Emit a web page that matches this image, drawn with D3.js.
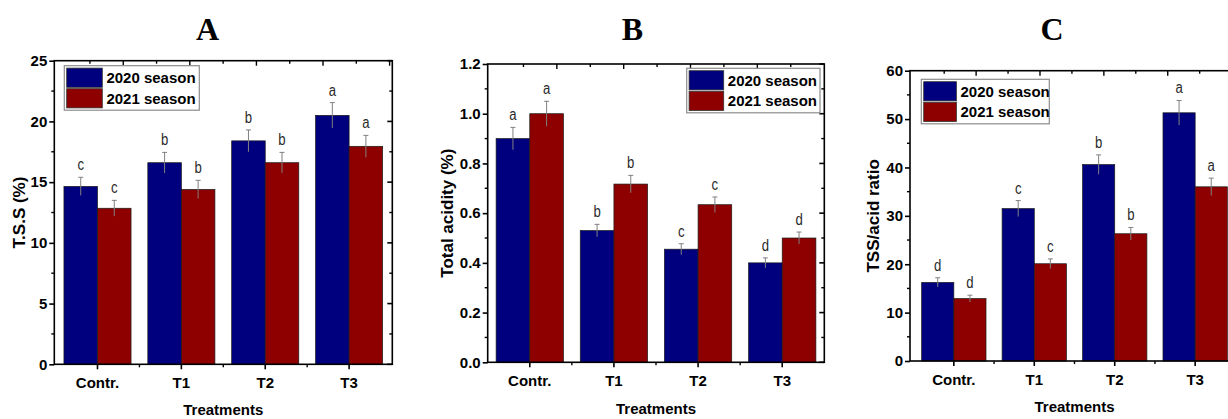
<!DOCTYPE html>
<html>
<head>
<meta charset="utf-8">
<script src="https://cdn.jsdelivr.net/npm/d3@7"></script>
<style>
  body { margin: 0; background: #fff; }
  svg { display: block; }
  text { font-family: "Liberation Sans", Arial, sans-serif; }
</style>
</head>
<body>
<svg id="chart" width="1228" height="419"></svg>
<script>
// categories and season names
const treatments = ["Contr.", "T1", "T2", "T3"];
const seasons = ["2020 season", "2021 season"];

// A : T.S.S (%)
const tss2020 = [14.65, 16.6, 18.4, 20.5];
const tss2021 = [12.85, 14.4, 16.6, 17.95];
const tssErr2020 = [0.75, 0.85, 0.9, 1.05];
const tssErr2021 = [0.65, 0.75, 0.85, 0.9];
const tssLetters2020 = ["c", "b", "b", "a"];
const tssLetters2021 = ["c", "b", "b", "a"];

// B : Total acidity (%)
const acid2020 = [0.90, 0.53, 0.455, 0.40];
const acid2021 = [1.00, 0.717, 0.634, 0.50];
const acidErr2020 = [0.045, 0.025, 0.022, 0.02];
const acidErr2021 = [0.05, 0.035, 0.031, 0.024];
const acidLetters2020 = ["a", "b", "c", "d"];
const acidLetters2021 = ["a", "b", "c", "d"];

// C : TSS/acid ratio
const ratio2020 = [16.25, 31.5, 40.6, 51.3];
const ratio2021 = [12.9, 20.1, 26.3, 36.0];
const ratioErr2020 = [0.95, 1.65, 2.0, 2.55];
const ratioErr2021 = [0.7, 1.0, 1.3, 1.8];
const ratioLetters2020 = ["d", "c", "b", "a"];
const ratioLetters2021 = ["d", "c", "b", "a"];

const colors = ["#00007f", "#8e0000"];

let svg = d3.select("#chart");

function drawPanel(cfg) {
    let g = svg.append("g");
    let x0 = cfg.left, x1 = cfg.right, yT = cfg.top, yB = cfg.bottom;

    //Category scale then season scale inside each category
    let x = d3.scaleBand().domain(treatments).range([x0, x1])
        .paddingInner(0.2).paddingOuter(cfg.outer);
    let xs = d3.scaleBand().domain(seasons).range([0, x.bandwidth()]);
    let y = d3.scaleLinear().domain([0, cfg.max]).range([yB, yT]);

    let rows = [];
    treatments.forEach((t, i) => {
        rows.push({t: t, s: seasons[0], v: cfg.a[i], e: cfg.ea[i], l: cfg.la[i], c: colors[0]});
        rows.push({t: t, s: seasons[1], v: cfg.b[i], e: cfg.eb[i], l: cfg.lb[i], c: colors[1]});
    });

    //Bars
    g.selectAll("rect.bar").data(rows).enter().append("rect")
        .attr("class", "bar")
        .attr("x", d => x(d.t) + xs(d.s))
        .attr("width", xs.bandwidth())
        .attr("y", d => y(d.v))
        .attr("height", d => yB - y(d.v))
        .attr("fill", d => d.c)
        .attr("stroke", "#1a1a1a")
        .attr("stroke-width", 0.7);

    //Error bars
    let cx = d => x(d.t) + xs(d.s) + xs.bandwidth() / 2;
    g.selectAll("line.err").data(rows).enter().append("line")
        .attr("x1", cx).attr("x2", cx)
        .attr("y1", d => y(d.v - d.e)).attr("y2", d => y(d.v + d.e))
        .attr("stroke", "#808080").attr("stroke-width", 1);
    g.selectAll("line.cap").data(rows).enter().append("line")
        .attr("x1", d => cx(d) - 2.5).attr("x2", d => cx(d) + 2.5)
        .attr("y1", d => y(d.v + d.e)).attr("y2", d => y(d.v + d.e))
        .attr("stroke", "#808080").attr("stroke-width", 1);

    //Letters over error bars
    g.selectAll("text.letter").data(rows).enter().append("text")
        .attr("x", cx)
        .attr("y", d => y(d.v + d.e) - 7)
        .attr("text-anchor", "middle")
        .attr("font-size", "16px")
        .attr("fill", "#2a2a2a")
        .attr("transform", d => `translate(${cx(d)},0) scale(0.82,1) translate(${-cx(d)},0)`)
        .text(d => d.l);

    //Frame
    g.append("rect")
        .attr("x", x0).attr("y", yT)
        .attr("width", x1 - x0).attr("height", yB - yT)
        .attr("fill", "none").attr("stroke", "#000").attr("stroke-width", 1.6);

    //Left axis (outward) with minor ticks
    let yMajor = d3.range(0, cfg.max + cfg.step / 2, cfg.step);
    let yMinor = d3.range(cfg.step / 2, cfg.max, cfg.step);
    let leftAxis = g.append("g").attr("transform", `translate(${x0},0)`)
        .call(d3.axisLeft(y).tickValues(yMajor).tickSize(5).tickPadding(2)
            .tickFormat(d3.format(cfg.fmt)));
    leftAxis.select(".domain").remove();
    leftAxis.selectAll("line").attr("stroke-width", 1.6);
    leftAxis.selectAll("text")
        .attr("font-size", "15px").attr("font-weight", "bold").attr("fill", "#000");
    g.selectAll("line.yminL").data(yMinor).enter().append("line")
        .attr("x1", x0 - 3).attr("x2", x0).attr("y1", y).attr("y2", y)
        .attr("stroke", "#000").attr("stroke-width", 1.4);

    //Right axis ticks (inward)
    g.selectAll("line.ymajR").data(yMajor).enter().append("line")
        .attr("x1", x1 - 5).attr("x2", x1).attr("y1", y).attr("y2", y)
        .attr("stroke", "#000").attr("stroke-width", 1.6);
    g.selectAll("line.yminR").data(yMinor).enter().append("line")
        .attr("x1", x1 - 3).attr("x2", x1).attr("y1", y).attr("y2", y)
        .attr("stroke", "#000").attr("stroke-width", 1.4);

    //Bottom axis
    let bottomAxis = g.append("g").attr("transform", `translate(0,${yB})`)
        .call(d3.axisBottom(x).tickSize(5).tickPadding(8));
    bottomAxis.select(".domain").remove();
    bottomAxis.selectAll("line").attr("stroke-width", 1.6);
    bottomAxis.selectAll("text")
        .attr("font-size", "15px").attr("font-weight", "bold").attr("fill", "#000");
    let mids = treatments.slice(1).map(t => x(t) - x.step() * x.paddingInner() / 2);
    g.selectAll("line.xmin").data(mids).enter().append("line")
        .attr("x1", d => d).attr("x2", d => d).attr("y1", yB).attr("y2", yB + 3)
        .attr("stroke", "#000").attr("stroke-width", 1.4);

    //Top axis ticks (inward)
    let topTicks = d3.range(0, 10);
    let tx = i => x0 + x.step() * (0.425 + 0.397 * i);
    g.selectAll("line.top").data(topTicks.filter(i => tx(i) < x1 - 2)).enter().append("line")
        .attr("x1", tx).attr("x2", tx)
        .attr("y1", yT).attr("y2", i => yT + (i % 2 ? 5 : 3))
        .attr("stroke", "#000").attr("stroke-width", 1.4);

    //Axis titles
    g.append("text")
        .attr("x", (x0 + x1) / 2).attr("y", cfg.xTitleY)
        .attr("text-anchor", "middle")
        .attr("font-size", "15px").attr("font-weight", "bold")
        .text("Treatments");
    g.append("text")
        .attr("transform", `translate(${cfg.yTitleX},${(yT + yB) / 2}) rotate(-90)`)
        .attr("text-anchor", "middle")
        .attr("font-size", "17px").attr("font-weight", "bold")
        .text(cfg.yTitle);

    //Panel letter
    g.append("text")
        .attr("x", cfg.titleX).attr("y", 39.5)
        .attr("text-anchor", "middle")
        .style("font-family", "'Liberation Serif', 'Times New Roman', serif")
        .attr("font-size", "32px").attr("font-weight", "bold")
        .text(cfg.title);

    //Legend
    let lg = g.append("g").attr("transform", `translate(${cfg.lx},${cfg.ly})`);
    lg.append("rect")
        .attr("width", cfg.lw).attr("height", 44.5)
        .attr("fill", "#fff").attr("stroke", "#8c8c8c").attr("stroke-width", 1.2);
    seasons.forEach((s, i) => {
        lg.append("rect")
            .attr("x", 2.4).attr("y", 2.4 + i * 20.6)
            .attr("width", cfg.sw).attr("height", 19.2)
            .attr("fill", colors[i]).attr("stroke", "#333").attr("stroke-width", 0.8);
        lg.append("text")
            .attr("x", cfg.sw + 6.5).attr("y", 2.4 + i * 20.6 + 15)
            .attr("font-size", "15px").attr("font-weight", "bold")
            .text(s);
    });
}

drawPanel({
    title: "A", titleX: 207.5,
    left: 54.3, right: 392.3, top: 60.7, bottom: 364.3, outer: 0.115,
    max: 25, step: 5, fmt: "d",
    a: tss2020, b: tss2021, ea: tssErr2020, eb: tssErr2021, la: tssLetters2020, lb: tssLetters2021,
    yTitle: "T.S.S (%)", yTitleX: 24.5, xTitleY: 415,
    lx: 64.3, ly: 65.7, lw: 135, sw: 35.6
});

drawPanel({
    title: "B", titleX: 632.5,
    left: 487.7, right: 824.3, top: 64, bottom: 362.3, outer: 0.1,
    max: 1.2, step: 0.2, fmt: ".1f",
    a: acid2020, b: acid2021, ea: acidErr2020, eb: acidErr2021, la: acidLetters2020, lb: acidLetters2021,
    yTitle: "Total acidity (%)", yTitleX: 452.5, xTitleY: 414,
    lx: 686.7, ly: 68.3, lw: 133.3, sw: 34.6
});

drawPanel({
    title: "C", titleX: 1052,
    left: 910, right: 1239, top: 70.7, bottom: 361, outer: 0.145,
    max: 60, step: 10, fmt: "d",
    a: ratio2020, b: ratio2021, ea: ratioErr2020, eb: ratioErr2021, la: ratioLetters2020, lb: ratioLetters2021,
    yTitle: "TSS/acid ratio", yTitleX: 879, xTitleY: 412,
    lx: 921.3, ly: 79.3, lw: 128, sw: 32.7
});
</script>
</body>
</html>
